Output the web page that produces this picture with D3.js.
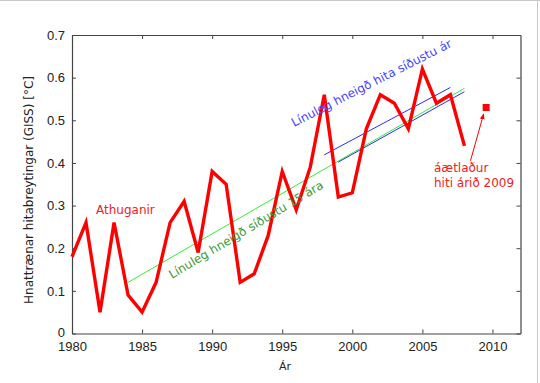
<!DOCTYPE html>
<html><head><meta charset="utf-8">
<script src="https://cdn.jsdelivr.net/npm/d3@7"></script>
<style>body{margin:0;background:#fff}svg{display:block}</style>
</head><body>
<svg id="c" width="540" height="383"></svg>
<script>
const years = [1980,1981,1982,1983,1984,1985,1986,1987,1988,1989,1990,1991,1992,1993,1994,1995,1996,1997,1998,1999,2000,2001,2002,2003,2004,2005,2006,2007,2008];
const anomalies = [0.18,0.26,0.05,0.26,0.09,0.05,0.12,0.26,0.31,0.19,0.38,0.35,0.12,0.14,0.23,0.38,0.29,0.39,0.56,0.32,0.33,0.48,0.56,0.54,0.48,0.62,0.54,0.56,0.44];
const trend15Years = [1984,2008];
const trend15Values = [0.12,0.575];
const trendBlueAYears = [1998,2007];
const trendBlueAValues = [0.419,0.577];
const trendBlueBYears = [1999,2008];
const trendBlueBValues = [0.402,0.567];
const estimateYear = [2009.55];
const estimateValue = [0.53];
const xTicks = [1980,1985,1990,1995,2000,2005,2010];
const yTicks = [0,0.1,0.2,0.3,0.4,0.5,0.6,0.7];

const svg = d3.select("#c");
const L=72, R=520.5, T=35, B=333.5;
const x = d3.scaleLinear().domain([1980,2012]).range([L,R]);
const y = d3.scaleLinear().domain([0,0.7]).range([B,T]);

// outer frame lines
svg.append("line").attr("x1",0).attr("x2",540).attr("y1",0.5).attr("y2",0.5).attr("stroke","#c8c8c8");
svg.append("line").attr("x1",537.5).attr("x2",537.5).attr("y1",0).attr("y2",383).attr("stroke","#c8c8c8");

const axisCol="#444";
const tickFont="Liberation Sans, Arial, sans-serif";
// axes
const gx = svg.append("g").attr("transform",`translate(0,${B})`)
  .call(d3.axisBottom(x).tickValues(xTicks).tickFormat(d3.format("d")).tickSizeInner(-4).tickSizeOuter(0).tickPadding(8));
const gxt = svg.append("g").attr("transform",`translate(0,${T})`)
  .call(d3.axisTop(x).tickValues(xTicks).tickFormat("").tickSizeInner(-4).tickSizeOuter(0));
const gy = svg.append("g").attr("transform",`translate(${L},0)`)
  .call(d3.axisLeft(y).tickValues(yTicks).tickFormat(d=>d===0?"0":d3.format(".1f")(d)).tickSizeInner(-4).tickSizeOuter(0).tickPadding(7));
const gyr = svg.append("g").attr("transform",`translate(${R},0)`)
  .call(d3.axisRight(y).tickValues(yTicks).tickFormat("").tickSizeInner(-4).tickSizeOuter(0));
[gx,gxt,gy,gyr].forEach(g=>{
  g.selectAll("path").attr("stroke",axisCol).attr("stroke-width",1.2);
  g.selectAll("line").attr("stroke",axisCol);
  g.selectAll("text").attr("fill","#222").style("font-family",tickFont).style("font-size","13px");
});
gy.selectAll("text").filter(d=>d===0).attr("dy","0.2em");

const annFont="DejaVu Sans, sans-serif";
// axis labels
svg.append("text").attr("x",285).attr("y",370).attr("text-anchor","middle")
  .style("font-family",annFont).style("font-size","11px").attr("fill","#222").text("Ár");
svg.append("text").attr("transform","translate(33,190) rotate(-90)").attr("text-anchor","middle")
  .style("font-family",annFont).style("font-size","12px").attr("fill","#222").text("Hnattrænar hitabreytingar (GISS) [°C]");

// trend lines
const seg = (xs,vs)=>xs.map((d,i)=>[x(d),y(vs[i])]);
svg.append("path").attr("d",d3.line()(seg(trend15Years,trend15Values))).attr("stroke","#33ee33").attr("stroke-width",1).attr("fill","none");
svg.append("path").attr("d",d3.line()(seg(trendBlueAYears,trendBlueAValues))).attr("stroke","#2a2aff").attr("stroke-width",1).attr("fill","none");
svg.append("path").attr("d",d3.line()(seg(trendBlueBYears,trendBlueBValues))).attr("stroke","#2a2aff").attr("stroke-width",1).attr("fill","none");

// observations
svg.append("path").datum(years.map((d,i)=>[d,anomalies[i]]))
  .attr("d",d3.line().x(d=>x(d[0])).y(d=>y(d[1])))
  .attr("fill","none").attr("stroke","#ff0000").attr("stroke-width",3.4).attr("stroke-linejoin","miter");

// estimate marker
svg.selectAll("rect.est").data(estimateYear).enter().append("rect")
  .attr("x",d=>x(d)-3.5).attr("y",(d,i)=>y(estimateValue[i])-3.5).attr("width",7).attr("height",7).attr("fill","#ff0000");

// arrow
const defs=svg.append("defs");
defs.append("marker").attr("id","ah").attr("viewBox","0 0 10 10").attr("refX",9).attr("refY",5)
  .attr("markerWidth",6).attr("markerHeight",6).attr("orient","auto")
  .append("path").attr("d","M0,1 L10,5 L0,9 Z").attr("fill","#ff0000");
svg.append("line").attr("x1",x(2008.43)).attr("y1",y(0.405)).attr("x2",x(2009.37)).attr("y2",y(0.515))
  .attr("stroke","#ff0000").attr("stroke-width",1).attr("marker-end","url(#ah)");

// annotations
svg.append("text").attr("x",96).attr("y",214).style("font-family",annFont).style("font-size","12px").attr("fill","#ee2222").text("Athuganir");
const est = svg.append("text").attr("x",434).attr("y",172).style("font-family",annFont).style("font-size","12px").attr("fill","#ee2222");
est.append("tspan").attr("x",434).text("áætlaður");
est.append("tspan").attr("x",434).attr("dy",15).text("hiti árið 2009");
svg.append("text").attr("transform","translate(294,127) rotate(-27)").style("font-family",annFont).style("font-size","12px").attr("fill","#4444ff").text("Línuleg hneigð hita síðustu ár");
svg.append("text").attr("transform","translate(172,279) rotate(-31)").style("font-family",annFont).style("font-size","12px").attr("fill","#3a9a3a").text("Línuleg hneigð síðustu 15 ára");
</script>
</body></html>
